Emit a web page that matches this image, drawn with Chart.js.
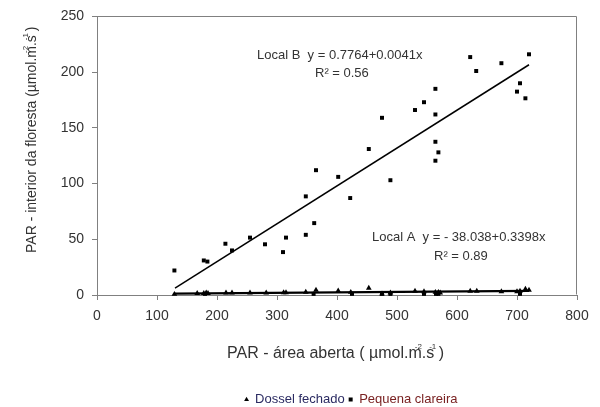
<!DOCTYPE html>
<html><head><meta charset="utf-8">
<script src="https://cdn.jsdelivr.net/npm/chart.js@4.4.1/dist/chart.umd.min.js"></script>
<style>html,body{margin:0;padding:0;background:#fff}#wrap{width:600px;height:407px}</style>
</head><body><div id="wrap"><canvas id="c" width="600" height="407"></canvas></div>
<script>
const FONT = '"Liberation Sans", Arial, Helvetica, sans-serif';

// ---- data ----
const seriesNames = ['Dossel fechado', 'Pequena clareira'];
const closedX = [129,167,178,182,185,215,225,255,282,311,315,348,365,402,423,453,475,489,530,545,564,569,572,622,633,674,700,705,714,720];
const closedY = [0.7,1.5,1.5,2,1.5,2,2,2,2,2.2,2.2,2.7,4.5,3.8,2.5,6.2,1,2,3.6,3,2.5,2.5,2,3.5,3.5,3,3,3.5,5.3,4.5];
const gapX = [129,178,184,214,225,255,280,310,315,348,348,362,365,402,422,453,475,489,530,545,564,564,564,569,564,622,632,674,720,705,700,714];
const gapY = [22,31,30,46,40,51.5,45.5,38.5,51.5,54,88.5,64.5,112,106,87,131,159,103,166,173,185,162,137.5,128,120.5,213.5,201,208,216,190,182.5,176.5];
const lowSqX = [180,361,425,475,489,545,565,569,705];
const lowSqY = [1,1,1,1,1,1,1,1,1];
const fitUpper = [-38.038, 0.3398];
const fitLower = [0.7764, 0.0041];
const fitRange = [130, 720];
const xTicks = [0,100,200,300,400,500,600,700,800];
const yTicks = [0,50,100,150,200,250];
const eqB = ['Local B  y = 0.7764+0.0041x', 'R\u00B2 = 0.56'];
const eqA = ['Local A  y = - 38.038+0.3398x', 'R\u00B2 = 0.89'];
const xTitleParts = ['PAR - \u00E1rea aberta ( \u00B5mol.m', '.s', ' )'];
const yTitleParts = ['PAR - interior da floresta (\u00B5mol.m', '.s', ' )'];
const supParts = ['-2', '-1'];
const legendColors = ['#2b2b62', '#7a2222'];

const TEXT = '#333333';
const AXIS = '#808080';
const LEG_FONT = 13, LEG_PAD = 4, LEG_BOX = 4;
const LEGEND_CX = 351, LEGEND_CY = 399.5;

const pts = (xs, ys) => xs.map((x, i) => ({x, y: ys[i]}));
const fitPts = c => fitRange.map(x => ({x, y: c[0] + c[1] * x}));

function drawTitle(ctx, parts, size) {
  ctx.font = size + 'px ' + FONT;
  const main = parts.join('');
  ctx.fillText(main, 0, 0);
  const w1 = ctx.measureText(parts[0]).width;
  const w2 = ctx.measureText(parts[0] + parts[1]).width;
  ctx.font = '8px ' + FONT;
  ctx.fillText(supParts[0], w1 - 7, -size * 0.55);
  ctx.fillText(supParts[1], w2 - 5, -size * 0.55);
}

const deco = {
  id: 'deco',
  afterLayout(chart) {
    const lg = chart.legend;
    if (!lg || !lg.lineWidths || !lg.lineWidths.length) return;
    const lw = lg.lineWidths[0];
    const startX = (lg.left + LEG_PAD + lg.right - lw) / 2;
    const center = startX + (lw - LEG_PAD) / 2;
    const dx = LEGEND_CX - center;
    const itemH = Math.max(LEG_FONT, LEG_BOX);
    const dy = LEGEND_CY - (lg.top + LEG_PAD + itemH / 2);
    lg.left += dx; lg.right += dx; lg.top += dy; lg.bottom += dy;
  },
  afterDraw(chart) {
    const ctx = chart.ctx, a = chart.chartArea;
    ctx.save();
    // plot frame (top and right)
    ctx.strokeStyle = AXIS; ctx.lineWidth = 1;
    ctx.beginPath();
    const L = Math.round(a.left) + 0.5, R = Math.round(a.right) - 0.5, T = Math.round(a.top) + 0.5, B = Math.round(a.bottom) - 0.5;
    ctx.moveTo(L, T); ctx.lineTo(R, T); ctx.lineTo(R, B);
    ctx.stroke();
    // equations
    ctx.fillStyle = TEXT; ctx.textAlign = 'left'; ctx.textBaseline = 'alphabetic';
    ctx.font = '13px ' + FONT;
    ctx.fillText(eqB[0], 257, 59);
    ctx.fillText(eqB[1], 315, 77);
    ctx.fillText(eqA[0], 372, 241);
    ctx.fillText(eqA[1], 434, 260);
    // x title
    ctx.save(); ctx.translate(227, 358); drawTitle(ctx, xTitleParts, 16); ctx.restore();
    // y title
    ctx.save(); ctx.translate(36, 253); ctx.rotate(-Math.PI / 2); drawTitle(ctx, yTitleParts, 14); ctx.restore();
    ctx.restore();
  }
};

new Chart(document.getElementById('c'), {
  type: 'scatter',
  data: {
    datasets: [
      {label: seriesNames[0], data: pts(closedX, closedY), pointStyle: 'triangle', pointRadius: 3.3, backgroundColor: '#000', borderColor: '#000', borderWidth: 0, clip: false},
      {label: seriesNames[1], data: pts(gapX, gapY), pointStyle: 'rect', pointRadius: 2.8, backgroundColor: '#000', borderColor: '#000', borderWidth: 0, clip: false},
      {label: 'low', data: pts(lowSqX, lowSqY), pointStyle: 'rect', pointRadius: 2.8, backgroundColor: '#000', borderColor: '#000', borderWidth: 0, clip: false},
      {label: 'fitUpper', data: fitPts(fitUpper), showLine: true, pointRadius: 0, borderColor: '#000', borderWidth: 1.5, clip: false},
      {label: 'fitLower', data: fitPts(fitLower), showLine: true, pointRadius: 0, borderColor: '#000', borderWidth: 2.2, clip: false}
    ]
  },
  options: {
    responsive: false, animation: false, devicePixelRatio: 1,
    layout: {padding: {left: 0, right: 23, top: 15, bottom: 0}},
    scales: {
      x: {
        type: 'linear', min: 0, max: 800,
        afterBuildTicks: s => { s.ticks = xTicks.map(v => ({value: v})); },
        afterFit: s => { s.height = 85; },
        ticks: {color: TEXT, font: {size: 14, family: FONT}, padding: 8, maxRotation: 0},
        grid: {drawOnChartArea: false, drawTicks: true, tickLength: 5, color: AXIS},
        border: {color: AXIS, width: 1}
      },
      y: {
        type: 'linear', min: 0, max: 250,
        afterBuildTicks: s => { s.ticks = yTicks.map(v => ({value: v})); },
        afterFit: s => { s.width = 97; },
        ticks: {color: TEXT, font: {size: 14, family: FONT}, padding: 8},
        grid: {drawOnChartArea: false, drawTicks: true, tickLength: 5, color: AXIS},
        border: {color: AXIS, width: 1}
      }
    },
    plugins: {
      tooltip: {enabled: false},
      legend: {
        position: 'bottom',
        labels: {
          usePointStyle: true, boxWidth: LEG_BOX, boxHeight: LEG_BOX, padding: LEG_PAD,
          font: {size: LEG_FONT, family: FONT}, color: TEXT,
          filter: item => item.datasetIndex < 2,
          generateLabels(chart) {
            const items = Chart.defaults.plugins.legend.labels.generateLabels(chart);
            items.forEach(it => { if (it.datasetIndex < 2) it.fontColor = legendColors[it.datasetIndex]; });
            return items;
          }
        }
      }
    }
  },
  plugins: [deco]
});
</script></body></html>
